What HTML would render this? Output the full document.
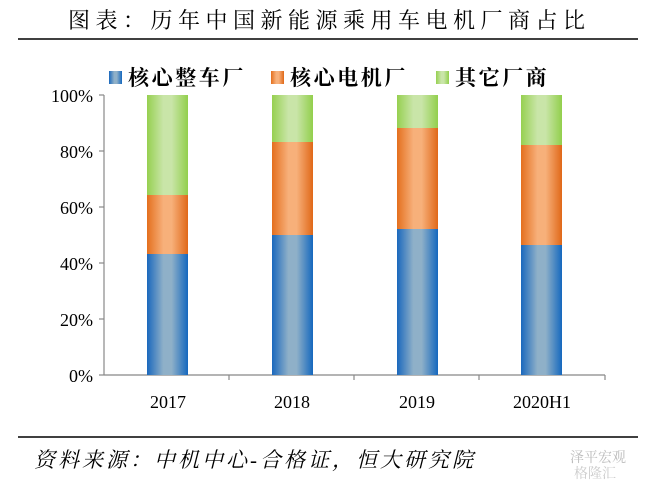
<!DOCTYPE html>
<html><head><meta charset="utf-8"><style>
body{margin:0;background:#fff;width:656px;height:484px;overflow:hidden}
</style></head><body>
<svg width="656" height="484" xmlns="http://www.w3.org/2000/svg">
<defs>
<linearGradient id="b" x1="0" x2="1"><stop offset="0" stop-color="#1a68bd"/><stop offset=".4" stop-color="#8fb0c8"/><stop offset=".6" stop-color="#8fb0c8"/><stop offset="1" stop-color="#1568be"/></linearGradient>
<linearGradient id="o" x1="0" x2="1"><stop offset="0" stop-color="#e46f1e"/><stop offset=".4" stop-color="#f7b07a"/><stop offset=".6" stop-color="#f7b07a"/><stop offset="1" stop-color="#e06818"/></linearGradient>
<linearGradient id="g" x1="0" x2="1"><stop offset="0" stop-color="#96d050"/><stop offset=".4" stop-color="#c9e5a8"/><stop offset=".6" stop-color="#c9e5a8"/><stop offset="1" stop-color="#92cf4c"/></linearGradient>
</defs>
<g font-family="'Liberation Serif','Noto Serif CJK SC',serif">
<text x="68" y="28" font-size="22" letter-spacing="5.5">图表：历年中国新能源乘用车电机厂商占比</text>
<line x1="18" y1="39" x2="638" y2="39" stroke="#000" stroke-width="1.5"/>
<rect x="109" y="71" width="13" height="13" fill="url(#b)"/>
<text x="128" y="85" font-size="21" font-weight="bold" letter-spacing="2.6">核心整车厂</text>
<rect x="271" y="71" width="13" height="13" fill="url(#o)"/>
<text x="290" y="85" font-size="21" font-weight="bold" letter-spacing="2.6">核心电机厂</text>
<rect x="436" y="71" width="13" height="13" fill="url(#g)"/>
<text x="455" y="85" font-size="21" font-weight="bold" letter-spacing="2.6">其它厂商</text>
<g stroke="#888" stroke-width="1.2">
<line x1="104" y1="95" x2="104" y2="375"/><line x1="104" y1="375" x2="605" y2="375"/>
<line x1="99" y1="95" x2="104" y2="95"/><line x1="99" y1="151" x2="104" y2="151"/><line x1="99" y1="207" x2="104" y2="207"/><line x1="99" y1="263" x2="104" y2="263"/><line x1="99" y1="319" x2="104" y2="319"/><line x1="99" y1="375" x2="104" y2="375"/>
<line x1="229" y1="375" x2="229" y2="380"/><line x1="354" y1="375" x2="354" y2="380"/><line x1="479" y1="375" x2="479" y2="380"/><line x1="605" y1="375" x2="605" y2="380"/>
</g>
<g font-size="18" text-anchor="end">
<text x="93" y="102">100%</text><text x="93" y="158">80%</text><text x="93" y="214">60%</text><text x="93" y="270">40%</text><text x="93" y="326">20%</text><text x="93" y="382">0%</text>
</g>
<g font-size="18" text-anchor="middle">
<text x="168" y="408">2017</text><text x="292" y="408">2018</text><text x="417" y="408">2019</text><text x="542" y="408">2020H1</text>
</g>
<rect x="147" y="95" width="41" height="100" fill="url(#g)"/><rect x="147" y="195" width="41" height="59" fill="url(#o)"/><rect x="147" y="254" width="41" height="121" fill="url(#b)"/>
<rect x="272" y="95" width="41" height="47" fill="url(#g)"/><rect x="272" y="142" width="41" height="93" fill="url(#o)"/><rect x="272" y="235" width="41" height="140" fill="url(#b)"/>
<rect x="397" y="95" width="41" height="33" fill="url(#g)"/><rect x="397" y="128" width="41" height="101" fill="url(#o)"/><rect x="397" y="229" width="41" height="146" fill="url(#b)"/>
<rect x="521" y="95" width="41" height="50" fill="url(#g)"/><rect x="521" y="145" width="41" height="100" fill="url(#o)"/><rect x="521" y="245" width="41" height="130" fill="url(#b)"/>
<line x1="18" y1="437" x2="638" y2="437" stroke="#000" stroke-width="1.5"/>
<text x="34" y="467" font-size="21" font-style="italic" letter-spacing="3">资料来源：中机中心-合格证，恒大研究院</text>
<text x="570" y="462" font-size="14" fill="#bbb">泽平宏观</text>
<text x="574" y="478" font-size="14" fill="#ccc">格隆汇</text>
</g>
</svg>
</body></html>
